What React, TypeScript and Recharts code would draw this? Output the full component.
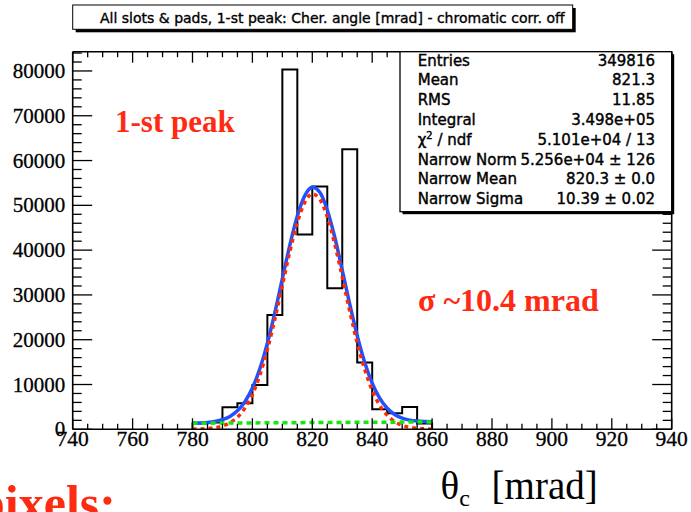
import React from 'react';
import { ComposedChart, Line, XAxis, YAxis } from 'recharts';

// ---- data ----
const binEdges = [780, 785, 790, 795, 800, 805, 810, 815, 820, 825, 830, 835, 840, 845, 850, 855];
const binCounts = [1300, 1500, 4900, 5800, 9900, 25500, 80300, 43500, 54200, 31500, 62500, 14900, 4500, 3600, 5000, 1300];
const histEnd = 860;

const fitX = [780, 782.5, 785, 787.5, 790, 792.5, 795, 797.5, 800, 802.5, 805, 807.5, 810, 812.5, 815, 817.5, 820, 822.5, 825, 827.5, 830, 832.5, 835, 837.5, 840, 842.5, 845, 847.5, 850, 852.5, 855, 857.5, 860];
const totalFit = [1380, 1430, 1530, 1740, 2140, 2870, 4120, 6150, 9220, 13550, 19230, 26070, 33610, 41120, 47630, 52170, 54060, 52900, 48970, 42870, 35540, 27940, 20880, 14920, 10280, 6940, 4710, 3310, 2490, 2050, 1830, 1730, 1690];
const narrowFit = [30, 70, 160, 360, 750, 1470, 2710, 4730, 7790, 12110, 17780, 24610, 32150, 39650, 46150, 50680, 52560, 51390, 47450, 41340, 34000, 26390, 19320, 13360, 8710, 5360, 3120, 1710, 880, 430, 200, 90, 35];
const bgX = [780, 790, 800, 810, 820, 830, 840, 850, 860];
const bgFit = [1350, 1390, 1430, 1460, 1500, 1540, 1570, 1610, 1650];

const xTicks = [740, 745, 750, 755, 760, 765, 770, 775, 780, 785, 790, 795, 800, 805, 810, 815, 820, 825, 830, 835, 840, 845, 850, 855, 860, 865, 870, 875, 880, 885, 890, 895, 900, 905, 910, 915, 920, 925, 930, 935, 940];
const xMajor = [740, 760, 780, 800, 820, 840, 860, 880, 900, 920, 940];
const yTicks = [0, 2000, 4000, 6000, 8000, 10000, 12000, 14000, 16000, 18000, 20000, 22000, 24000, 26000, 28000, 30000, 32000, 34000, 36000, 38000, 40000, 42000, 44000, 46000, 48000, 50000, 52000, 54000, 56000, 58000, 60000, 62000, 64000, 66000, 68000, 70000, 72000, 74000, 76000, 78000, 80000, 82000, 84000];
const yMajor = [0, 10000, 20000, 30000, 40000, 50000, 60000, 70000, 80000];

const statLabels = ['Entries', 'Mean', 'RMS', 'Integral', 'CHI', 'Narrow Norm', 'Narrow Mean', 'Narrow Sigma'];
const statValues = ['349816', '821.3', '11.85', '3.498e+05', '5.101e+04 / 13', '5.256e+04 \u00b1 126', '820.3 \u00b1 0.0', '10.39 \u00b1 0.02'];

const titleText = 'All slots & pads, 1-st peak: Cher. angle [mrad] - chromatic corr. off';

// ---- tables ----
const histData = [
  { x: binEdges[0], y: 0 },
  ...binEdges.map((e, i) => ({ x: e, y: binCounts[i] })),
  { x: histEnd, y: binCounts[binCounts.length - 1] },
  { x: histEnd, y: 0 },
];
const totalData = fitX.map((x, i) => ({ x, y: totalFit[i] }));
const narrowData = fitX.map((x, i) => ({ x, y: narrowFit[i] }));
const bgData = bgX.map((x, i) => ({ x, y: bgFit[i] }));

const W = 691;
const H = 512;
const PL = 72.7;
const PR = 671.7;
const PT = 51.7;
const PB = 429.3;
const AX = 1; // thin axis band

const axisFont = 'Liberation Serif, Times New Roman, serif';
const sansFont = 'DejaVu Sans, sans-serif';
const RED = '#ff2a12';

const BottomTick = (props: any) => {
  const { x, payload } = props;
  const y = PB;
  const major = xMajor.includes(payload.value);
  return (
    <g>
      <line x1={x} x2={x} y1={y} y2={y - (major ? 11 : 5.5)} stroke="#000" strokeWidth={1.3} />
      {major && (
        <text x={x} y={y + 16.2} textAnchor="middle" fontFamily={axisFont} fontSize={21.5} fill="#000" stroke="#000" strokeWidth={0.3}>
          {payload.value}
        </text>
      )}
    </g>
  );
};

const TopTick = (props: any) => {
  const { x, payload } = props;
  const y = PT;
  const major = xMajor.includes(payload.value);
  return <line x1={x} x2={x} y1={y} y2={y + (major ? 11 : 5.5)} stroke="#000" strokeWidth={1.3} />;
};

const LeftTick = (props: any) => {
  const { y, payload } = props;
  const x = PL;
  const major = yMajor.includes(payload.value);
  return (
    <g>
      <line x1={x} x2={x + (major ? 19.5 : 9)} y1={y} y2={y} stroke="#000" strokeWidth={1.3} />
      {major && (
        <text x={x - 7.5} y={y + 7} textAnchor="end" fontFamily={axisFont} fontSize={21} fill="#000" stroke="#000" strokeWidth={0.3}>
          {payload.value}
        </text>
      )}
    </g>
  );
};

const RightTick = (props: any) => {
  const { y, payload } = props;
  const x = PR;
  const major = yMajor.includes(payload.value);
  return <line x1={x} x2={x - (major ? 19.5 : 9)} y1={y} y2={y} stroke="#000" strokeWidth={1.3} />;
};

const axisLine = { stroke: '#000', strokeWidth: 1.6 };

export default function App() {
  const rowY = (i: number) => 65.5 + 19.8 * i;
  return (
    <div style={{ position: 'absolute', left: 0, top: 0, width: W, height: H, background: '#fff', overflow: 'hidden' }}>
      <ComposedChart
        width={W}
        height={H}
        margin={{ top: PT - AX, right: W - PR - AX, bottom: H - PB - AX, left: PL - AX }}
      >
        <XAxis
          xAxisId="b"
          dataKey="x"
          type="number"
          domain={[740, 940]}
          allowDataOverflow
          ticks={xTicks}
          interval={0}
          height={AX}
          tickSize={0}
          tickMargin={0}
          tickLine={false}
          axisLine={axisLine}
          tick={<BottomTick />}
        />
        <XAxis
          xAxisId="t"
          orientation="top"
          dataKey="x"
          type="number"
          domain={[740, 940]}
          allowDataOverflow
          ticks={xTicks}
          interval={0}
          height={AX}
          tickSize={0}
          tickMargin={0}
          tickLine={false}
          axisLine={axisLine}
          tick={<TopTick />}
        />
        <YAxis
          yAxisId="l"
          type="number"
          domain={[0, 84300]}
          allowDataOverflow
          ticks={yTicks}
          interval={0}
          width={AX}
          tickSize={0}
          tickMargin={0}
          tickLine={false}
          axisLine={axisLine}
          tick={<LeftTick />}
        />
        <YAxis
          yAxisId="r"
          orientation="right"
          type="number"
          domain={[0, 84300]}
          allowDataOverflow
          ticks={yTicks}
          interval={0}
          width={AX}
          tickSize={0}
          tickMargin={0}
          tickLine={false}
          axisLine={axisLine}
          tick={<RightTick />}
        />
        <Line
          xAxisId="b"
          yAxisId="l"
          data={histData}
          dataKey="y"
          type="stepAfter"
          stroke="#000"
          strokeWidth={2}
          dot={false}
          activeDot={false}
          isAnimationActive={false}
        />
        <Line
          xAxisId="b"
          yAxisId="l"
          data={totalData}
          dataKey="y"
          type="monotone"
          stroke="#2050ff"
          strokeWidth={3.5}
          dot={false}
          activeDot={false}
          isAnimationActive={false}
        />
        <Line
          xAxisId="b"
          yAxisId="l"
          data={narrowData}
          dataKey="y"
          type="monotone"
          stroke="#ff2a00"
          strokeWidth={3.5}
          strokeDasharray="4 4"
          dot={false}
          activeDot={false}
          isAnimationActive={false}
        />
        <Line
          xAxisId="b"
          yAxisId="l"
          data={bgData}
          dataKey="y"
          type="monotone"
          stroke="#10e810"
          strokeWidth={3.5}
          strokeDasharray="5 4"
          dot={false}
          activeDot={false}
          isAnimationActive={false}
        />
      </ComposedChart>

      <svg
        width={W}
        height={H}
        style={{ position: 'absolute', left: 0, top: 0, pointerEvents: 'none' }}
      >
        {/* title box */}
        <rect x={75.7} y={8} width={500} height={24.3} fill="#000" />
        <rect x={72.7} y={5} width={500} height={24.3} fill="#fff" stroke="#000" strokeWidth={1} />
        <text x={100} y={23.3} fontFamily={sansFont} fontSize={14} fill="#000" stroke="#000" strokeWidth={0.35}>
          {titleText}
        </text>

        {/* stats box */}
        <rect x={402.5} y={54.2} width={271.7} height={160} fill="#000" />
        <rect x={400} y={PT} width={PR - 400} height={160} fill="#fff" stroke="#000" strokeWidth={1.3} />
        {statLabels.map((lab, i) => (
          <text key={'l' + i} x={417.7} y={rowY(i)} fontFamily={sansFont} fontSize={15} fill="#000" stroke="#000" strokeWidth={0.4}>
            {lab === 'CHI' ? (
              <>
                {'\u03c7'}
                <tspan fontSize={10} dy={-6}>2</tspan>
                <tspan dy={6}>{' / ndf'}</tspan>
              </>
            ) : (
              lab
            )}
          </text>
        ))}
        {statValues.map((v, i) => (
          <text key={'v' + i} x={655} y={rowY(i)} textAnchor="end" fontFamily={sansFont} fontSize={15} fill="#000" stroke="#000" strokeWidth={0.4}>
            {v}
          </text>
        ))}

        {/* annotations */}
        <text x={115} y={131.7} fontFamily={axisFont} fontWeight="bold" fontSize={31} fill={RED}>
          1-st peak
        </text>
        <text x={418} y={311} fontFamily={axisFont} fontWeight="bold" fontSize={32} fill={RED}>
          {'\u03c3 ~10.4 mrad'}
        </text>
        <text x={440.5} y={499} fontFamily={axisFont} fontSize={39} fill="#000">
          {'\u03b8'}
          <tspan fontSize={24} dy={7}>c</tspan>
          <tspan dy={-7} dx={12}>{' [mrad]'}</tspan>
        </text>
        <text x={-23} y={520} fontFamily={axisFont} fontWeight="bold" fontSize={50} fill={RED}>
          pixels:
        </text>
      </svg>
    </div>
  );
}
